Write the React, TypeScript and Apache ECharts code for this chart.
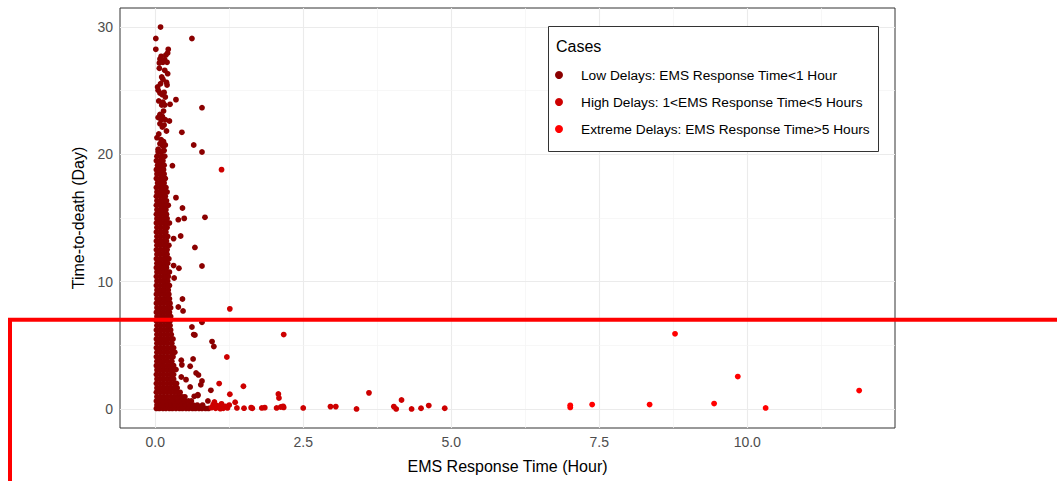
import React, { useEffect, useRef } from "react";
import * as echarts from "echarts";

// ---- data ----
const seriesNames = [
  "Low Delays: EMS Response Time<1 Hour",
  "High Delays: 1<EMS Response Time<5 Hours",
  "Extreme Delays: EMS Response Time>5 Hours",
];
const seriesColors = ["#8B0000", "#CD0000", "#FF0000"];

const xTicks = [0, 2.5, 5, 7.5, 10];
const xMinor = [1.25, 3.75, 6.25, 8.75, 11.25];
const yTicks = [0, 10, 20, 30];
const yMinor = [5, 15, 25];

// dense low-delay core, row by row: [y, x values]
const lowRows: [number, number[]][] = [
  [0.04, [0.02, 0.07, 0.13, 0.18, 0.24, 0.29, 0.35, 0.41, 0.46, 0.52, 0.57, 0.63, 0.68, 0.74, 0.79, 0.85, 0.9]],
  [0.3, [0.03, 0.09, 0.15, 0.21, 0.27, 0.33, 0.39, 0.45, 0.51, 0.58, 0.64, 0.71, 0.8]],
  [0.62, [0.02, 0.08, 0.14, 0.2, 0.26, 0.32, 0.38, 0.44, 0.5, 0.56, 0.61]],
  [0.95, [0.03, 0.09, 0.15, 0.21, 0.27, 0.33, 0.39, 0.45, 0.5]],
  [1.3, [0.02, 0.08, 0.14, 0.2, 0.26, 0.32, 0.37, 0.42]],
  [1.65, [0.03, 0.09, 0.15, 0.21, 0.27, 0.33, 0.37]],
  [2.0, [0.02, 0.08, 0.14, 0.2, 0.26, 0.32, 0.36]],
  [2.35, [0.03, 0.09, 0.15, 0.21, 0.27, 0.31]],
  [2.7, [0.02, 0.08, 0.14, 0.2, 0.26, 0.31]],
  [3.05, [0.03, 0.09, 0.15, 0.21, 0.27, 0.3]],
  [3.4, [0.02, 0.08, 0.14, 0.2, 0.26, 0.31]],
  [3.75, [0.03, 0.09, 0.15, 0.21, 0.28]],
  [4.1, [0.02, 0.08, 0.14, 0.2, 0.26, 0.3]],
  [4.45, [0.03, 0.09, 0.15, 0.21, 0.27, 0.33]],
  [4.8, [0.02, 0.08, 0.14, 0.2, 0.26, 0.31]],
  [5.15, [0.03, 0.09, 0.15, 0.21, 0.28]],
  [5.5, [0.02, 0.08, 0.14, 0.2, 0.25, 0.3]],
  [5.85, [0.03, 0.09, 0.15, 0.21, 0.27]],
  [6.2, [0.02, 0.08, 0.14, 0.2, 0.26]],
  [6.55, [0.03, 0.09, 0.15, 0.21, 0.25]],
  [6.9, [0.02, 0.08, 0.14, 0.2, 0.25]],
  [7.25, [0.03, 0.09, 0.15, 0.21, 0.26]],
  [7.6, [0.02, 0.08, 0.14, 0.2, 0.24]],
  [7.95, [0.03, 0.09, 0.15, 0.21, 0.26]],
  [8.3, [0.02, 0.08, 0.14, 0.2, 0.25]],
  [8.65, [0.03, 0.09, 0.15, 0.2, 0.24]],
  [9.0, [0.02, 0.08, 0.14, 0.19, 0.23]],
  [9.35, [0.03, 0.09, 0.15, 0.22]],
  [9.7, [0.02, 0.08, 0.14, 0.19, 0.24]],
  [10.05, [0.03, 0.09, 0.15, 0.21]],
  [10.4, [0.02, 0.08, 0.14, 0.18, 0.22]],
  [10.75, [0.03, 0.09, 0.15, 0.2, 0.24]],
  [11.1, [0.02, 0.08, 0.14, 0.19]],
  [11.45, [0.03, 0.09, 0.15, 0.21]],
  [11.8, [0.02, 0.08, 0.14, 0.18, 0.23]],
  [12.15, [0.03, 0.09, 0.15, 0.2]],
  [12.5, [0.02, 0.08, 0.14, 0.2]],
  [12.85, [0.03, 0.09, 0.15, 0.19, 0.23]],
  [13.2, [0.02, 0.08, 0.14, 0.19]],
  [13.55, [0.03, 0.09, 0.15, 0.21]],
  [13.9, [0.02, 0.08, 0.14, 0.18]],
  [14.25, [0.03, 0.09, 0.15, 0.2]],
  [14.6, [0.02, 0.08, 0.14, 0.19, 0.24]],
  [14.95, [0.03, 0.09, 0.15, 0.2]],
  [15.3, [0.02, 0.08, 0.14, 0.19]],
  [15.65, [0.03, 0.09, 0.14, 0.18]],
  [16.0, [0.02, 0.08, 0.13, 0.18, 0.22]],
  [16.35, [0.03, 0.09, 0.14, 0.19]],
  [16.7, [0.02, 0.08, 0.13, 0.17]],
  [17.05, [0.03, 0.09, 0.15, 0.2]],
  [17.4, [0.02, 0.08, 0.13, 0.18]],
  [17.75, [0.04, 0.1, 0.15]],
  [18.1, [0.02, 0.08, 0.13, 0.17]],
  [18.45, [0.03, 0.09, 0.15]],
  [18.8, [0.02, 0.08, 0.14]],
  [19.15, [0.04, 0.1, 0.15]],
  [19.5, [0.02, 0.08, 0.13]],
  [19.85, [0.03, 0.1, 0.16]],
  [20.2, [0.05, 0.11]],
];

// scattered low-delay points [x, y]
const lowScatter: [number, number][] = [
  [0.09, 30.0], [0.01, 29.1], [0.62, 29.1], [0.01, 28.25], [0.22, 28.25], [0.21, 27.97],
  [0.1, 27.7], [0.16, 27.44], [0.13, 27.23], [0.07, 27.18], [0.2, 27.23], [0.07, 26.76],
  [0.21, 26.34], [0.11, 26.08], [0.19, 25.66], [0.2, 25.45], [0.09, 25.55], [0.05, 25.03],
  [0.08, 24.82], [0.12, 24.69], [0.17, 24.5], [0.15, 24.87], [0.35, 24.3], [0.79, 23.67],
  [0.11, 23.88], [0.16, 23.88], [0.25, 23.93], [0.08, 23.14], [0.12, 22.98], [0.17, 22.72],
  [0.24, 22.62], [0.1, 22.72], [0.08, 22.41], [0.12, 22.15], [0.19, 21.84], [0.45, 21.73],
  [0.03, 21.31], [0.1, 21.15], [0.08, 20.84], [0.13, 20.63], [0.17, 20.74], [0.65, 20.74],
  [0.05, 20.4], [0.15, 20.3], [0.79, 20.19], [0.29, 19.11], [0.35, 16.6], [0.46, 15.79],
  [0.14, 21.0], [0.06, 21.6], [0.15, 22.3], [0.05, 22.9], [0.14, 23.4], [0.06, 24.2],
  [0.13, 24.1], [0.04, 25.3], [0.13, 25.9], [0.16, 26.6], [0.08, 27.5], [0.18, 27.8],
  [0.49, 14.97], [0.39, 14.87], [0.84, 15.05], [0.67, 12.69], [0.43, 13.59], [0.31, 13.38],
  [0.79, 11.23], [0.31, 11.26], [0.4, 11.05], [0.32, 10.29], [0.46, 8.64], [0.39, 8.01],
  [0.47, 7.7], [0.62, 6.44], [0.79, 6.8], [0.67, 5.81], [0.96, 5.29], [0.99, 4.9],
  [0.64, 3.93], [0.44, 3.82], [0.45, 3.46], [0.59, 3.35], [0.35, 3.09], [0.69, 2.83],
  [0.73, 2.67], [0.44, 2.51], [0.52, 2.3], [0.79, 2.2], [0.77, 1.89], [0.59, 1.73],
  [0.66, 0.99], [0.94, 1.46], [0.72, 1.12], [0.89, 0.63], [0.65, 5.84], [0.72, 1.05],
];

const highPoints: [number, number][] = [
  [0.95, 0.1], [0.98, 0.35], [1.02, 0.05], [1.05, 0.25], [1.08, 0.1], [1.12, 0.4],
  [1.15, 0.05], [1.18, 0.2], [1.22, 0.08], [1.25, 0.3], [1.0, 0.55], [1.1, 0.02],
  [1.35, 0.52], [1.38, 0.08], [1.5, 0.06], [1.62, 0.1], [1.64, 0.05], [1.8, 0.08],
  [1.85, 0.1], [2.05, 0.08], [2.12, 0.15], [2.17, 0.12], [1.26, 1.15], [1.08, 1.99],
  [1.49, 1.78], [2.08, 1.18], [2.09, 0.86], [1.21, 4.08], [1.26, 7.86], [2.17, 5.84],
  [1.12, 18.8], [2.16, 0.2], [2.5, 0.08], [2.96, 0.18], [3.05, 0.18], [3.4, 0.0],
  [3.61, 1.26], [4.03, 0.18], [4.07, 0.0], [4.16, 0.7], [4.33, 0.0], [4.49, 0.05],
  [4.62, 0.26], [4.89, 0.05],
];

const extremePoints: [number, number][] = [
  [7.01, 0.12], [7.01, 0.28], [7.38, 0.34], [8.35, 0.34], [8.78, 5.9],
  [9.44, 0.42], [9.84, 2.54], [10.31, 0.08], [11.89, 1.44],
];

const thresholdDay = 7;

export default function App() {
  const ref = useRef<HTMLDivElement>(null);

  useEffect(() => {
    if (!ref.current) return;
    const chart = echarts.init(ref.current, undefined, { renderer: "svg" });

    const lowPoints: [number, number][] = [];
    lowRows.forEach(([y, xs]) => xs.forEach((x) => lowPoints.push([x, y])));
    lowScatter.forEach((p) => lowPoints.push(p));

    const font = "Liberation Sans, Arial, sans-serif";
    const major = { color: "#EBEBEB", width: 1.1, type: "solid" };
    const minor = { color: "#F3F3F3", width: 0.7, type: "solid" };
    const gridLines = [
      ...xTicks.map((v) => ({ xAxis: v, lineStyle: major })),
      ...xMinor.map((v) => ({ xAxis: v, lineStyle: minor })),
      ...yTicks.map((v) => ({ yAxis: v, lineStyle: major })),
      ...yMinor.map((v) => ({ yAxis: v, lineStyle: minor })),
    ];

    const boxAndTitle = [
      {
        type: "rect",
        z: 5,
        shape: { x: 548.5, y: 26.5, width: 330, height: 125 },
        style: { fill: "#FFFFFF", stroke: "#333333", lineWidth: 1 },
      },
      {
        type: "text",
        z: 6,
        x: 556,
        y: 38,
        style: { text: "Cases", fontSize: 16, fill: "#000000", fontFamily: font, textVerticalAlign: "top" },
      },
    ];

    const pointStyle = (c: string) => ({ color: c, opacity: 1, borderWidth: 0 });

    chart.setOption({
      animation: false,
      textStyle: { fontFamily: font },
      grid: {
        left: 120,
        top: 8,
        width: 775,
        height: 420,
        show: true,
        borderColor: "#333333",
        borderWidth: 1,
        backgroundColor: "transparent",
        containLabel: false,
      },
      xAxis: {
        type: "value",
        min: -0.595,
        max: 12.495,
        name: "EMS Response Time (Hour)",
        nameLocation: "middle",
        nameGap: 30,
        nameTextStyle: { color: "#000000", fontSize: 16, fontFamily: font },
        axisLine: { show: false },
        axisTick: { show: true, customValues: xTicks, length: 4, lineStyle: { color: "#333333" } },
        axisLabel: {
          customValues: xTicks,
          formatter: (v: number) => v.toFixed(1),
          color: "#4D4D4D",
          fontSize: 14,
          margin: 7,
          fontFamily: font,
        },
        splitLine: { show: false },
      },
      yAxis: {
        type: "value",
        min: -1.5,
        max: 31.5,
        name: "Time-to-death (Day)",
        nameLocation: "middle",
        nameGap: 26,
        nameRotate: 90,
        nameTextStyle: { color: "#000000", fontSize: 16, fontFamily: font },
        axisLine: { show: false },
        axisTick: { show: true, customValues: yTicks, length: 4, lineStyle: { color: "#333333" } },
        axisLabel: {
          customValues: yTicks,
          color: "#4D4D4D",
          fontSize: 14,
          margin: 7,
          fontFamily: font,
        },
        splitLine: { show: false },
      },
      legend: {
        data: seriesNames,
        orient: "vertical",
        left: 550,
        top: 62,
        icon: "circle",
        itemWidth: 34,
        itemHeight: 8,
        itemGap: 11,
        z: 6,
        textStyle: { color: "#000000", fontSize: 13.7, lineHeight: 16, fontFamily: font },
        selectedMode: false,
      },
      graphic: boxAndTitle,
      series: [
        {
          name: "gridlines",
          type: "scatter",
          data: [],
          silent: true,
          markLine: {
            silent: true,
            symbol: "none",
            z: 1,
            label: { show: false },
            lineStyle: { type: "solid" },
            data: gridLines,
          },
        },
        {
          name: seriesNames[0],
          type: "scatter",
          data: lowPoints,
          symbolSize: 5.8,
          itemStyle: pointStyle(seriesColors[0]),
          z: 2,
        },
        {
          name: seriesNames[1],
          type: "scatter",
          data: highPoints,
          symbolSize: 5.8,
          itemStyle: pointStyle(seriesColors[1]),
          z: 2,
        },
        {
          name: seriesNames[2],
          type: "scatter",
          data: extremePoints,
          symbolSize: 5.8,
          itemStyle: pointStyle(seriesColors[2]),
          z: 2,
        },
      ],
    });

    // the red threshold annotation (y = 7 days) extends beyond the panel
    const yPix = chart.convertToPixel({ yAxisIndex: 0 }, thresholdDay) as number;
    chart.setOption({
      graphic: [
        ...boxAndTitle,
        {
          type: "polyline",
          z: 10,
          shape: { points: [[10, 481], [10, yPix], [1057, yPix]] },
          style: { stroke: "#FF0000", lineWidth: 4, fill: "none" },
        },
      ],
    });

    return () => chart.dispose();
  }, []);

  return (
    <div
      ref={ref}
      style={{ position: "absolute", left: 0, top: 0, width: 1057, height: 481, background: "#FFFFFF" }}
    />
  );
}
